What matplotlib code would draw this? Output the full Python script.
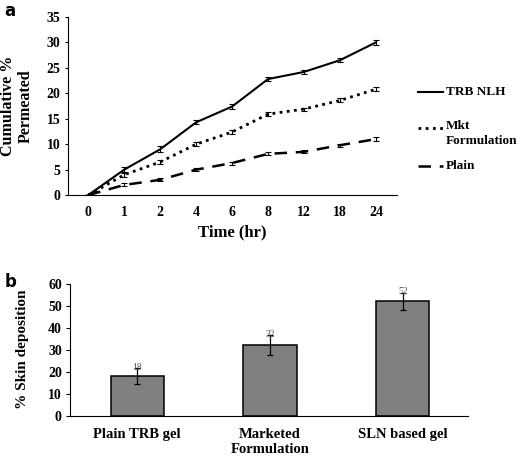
import matplotlib
matplotlib.use('Agg')
import matplotlib.pyplot as plt
import numpy as np

plt.rcParams['font.family'] = 'Liberation Serif'
plt.rcParams['font.weight'] = 'bold'

# panel a - cumulative permeation
time_labels = ['0', '1', '2', '4', '6', '8', '12', '18', '24']
trb_nlh = [0, 5.0, 9.0, 14.3, 17.4, 22.8, 24.2, 26.5, 30.0]
trb_err = [0, 0.5, 0.6, 0.4, 0.5, 0.4, 0.4, 0.4, 0.5]
mkt = [0, 4.0, 6.5, 10.0, 12.4, 15.9, 16.9, 18.6, 20.8]
mkt_err = [0, 0.4, 0.4, 0.4, 0.4, 0.4, 0.3, 0.4, 0.4]
plain = [0, 2.0, 3.0, 5.0, 6.3, 8.1, 8.5, 9.8, 11.0]
plain_err = [0, 0.3, 0.3, 0.3, 0.3, 0.3, 0.3, 0.3, 0.4]
series_labels = ['TRB NLH', 'Mkt\nFormulation', 'Plain']

# panel b - skin deposition
bar_labels = ['Plain TRB gel', 'Marketed\nFormulation', 'SLN based gel']
deposition = [18, 32, 52]
deposition_err = [3.5, 4.5, 4.0]

fig = plt.figure(figsize=(5.2, 4.58), dpi=100)

ax1 = fig.add_axes([0.131, 0.574, 0.632, 0.389])
x = np.arange(len(time_labels))
styles = [dict(ls='-', lw=1.5), dict(ls=(0, (1, 1.6)), lw=2.0), dict(ls=(0, (5, 3.5)), lw=1.8)]
for vals, errs, st in zip([trb_nlh, mkt, plain], [trb_err, mkt_err, plain_err], styles):
    ax1.errorbar(x, vals, yerr=errs, color='black', capsize=2, elinewidth=0.8,
                 capthick=0.8, **st)
ax1.set_xlim(-0.56, 8.58)
ax1.set_ylim(0, 35)
ax1.set_yticks(range(0, 36, 5))
ax1.set_xticks(x)
ax1.set_xticklabels(time_labels)
ax1.tick_params(axis='y', length=2.5, width=0.8, labelsize=10, pad=3)
ax1.tick_params(axis='x', length=0, labelsize=10, pad=8)
for s in ['top', 'right']:
    ax1.spines[s].set_visible(False)
ax1.set_xlabel('Time (hr)', fontsize=12, fontweight='bold', labelpad=4)
ax1.set_ylabel('Cumulative %\nPermeated', fontsize=11.5, fontweight='bold',
               linespacing=1.1)
ax1.yaxis.set_label_coords(-0.105, 0.5)

# legend drawn beside the axes
leg_y = [0.579, 0.376, 0.163]
for lab, st, yy in zip(series_labels, styles, leg_y):
    ax1.plot([1.064, 1.14], [yy, yy], transform=ax1.transAxes, color='black',
             clip_on=False, **st)
    if '\n' in lab:
        ax1.text(1.149, yy + 0.045, lab, transform=ax1.transAxes, va='top',
                 fontsize=9.5, fontweight='bold', linespacing=1.35)
    else:
        ax1.text(1.149, yy, lab, transform=ax1.transAxes, va='center',
                 fontsize=9.5, fontweight='bold')
fig.text(0.008, 0.975, 'a', fontsize=12, fontweight='bold', family='DejaVu Sans', va='center')

ax2 = fig.add_axes([0.135, 0.0924, 0.765, 0.288])
xb = np.arange(len(bar_labels))
ax2.bar(xb, deposition, width=0.4, color='#808080', edgecolor='black', linewidth=1.1)
ax2.errorbar(xb, deposition, yerr=deposition_err, fmt='none', ecolor='black',
             elinewidth=0.9, capsize=2, capthick=0.9)
for xi, v, e in zip(xb, deposition, deposition_err):
    ax2.text(xi, v + e + 0.5, str(v), ha='center', va='center', fontsize=7,
             color='#555555', fontweight='normal')
ax2.set_xlim(-0.504, 2.49)
ax2.set_ylim(0, 60)
ax2.set_yticks(range(0, 61, 10))
ax2.set_xticks(xb)
ax2.set_xticklabels(bar_labels, fontsize=10.5, linespacing=1.2)
ax2.tick_params(axis='x', length=0, pad=9)
ax2.tick_params(axis='y', length=3, labelsize=10, pad=3)
for s in ['top', 'right']:
    ax2.spines[s].set_visible(False)
ax2.set_ylabel('% Skin deposition', fontsize=11, fontweight='bold')
ax2.yaxis.set_label_coords(-0.103, 0.5)
fig.text(0.008, 0.385, 'b', fontsize=12, fontweight='bold', family='DejaVu Sans', va='center')

fig.savefig('out.png', dpi=100)
